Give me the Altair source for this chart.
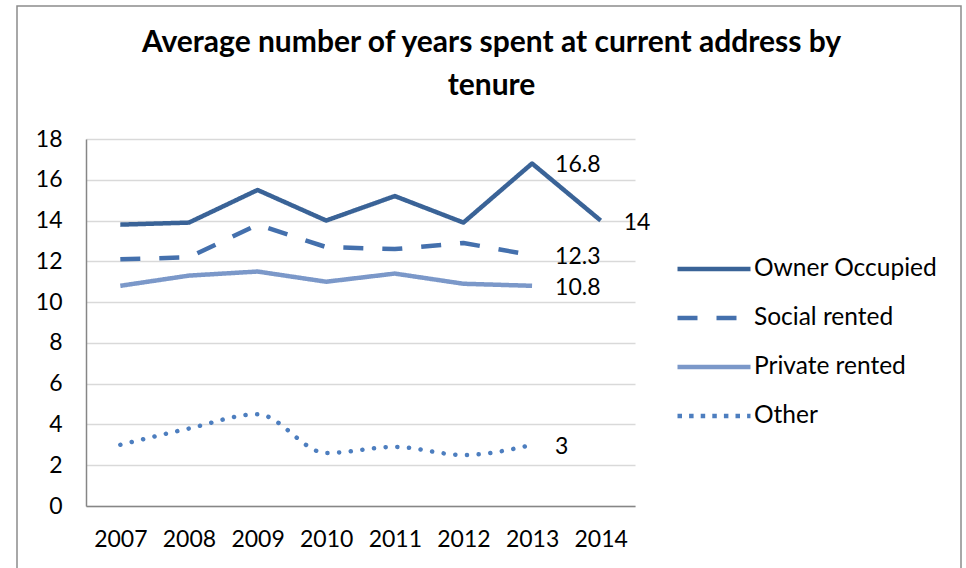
import altair as alt
import pandas as pd

years = ["2007", "2008", "2009", "2010", "2011", "2012", "2013", "2014"]
series_names = ["Owner Occupied", "Social rented", "Private rented", "Other"]
owner = [13.8, 13.9, 15.5, 14.0, 15.2, 13.9, 16.8, 14.0]
social = [12.1, 12.2, 13.8, 12.7, 12.6, 12.9, 12.3]
private = [10.8, 11.3, 11.5, 11.0, 11.4, 10.9, 10.8]
other = [3.0, 3.8, 4.5, 2.6, 2.9, 2.5, 3.0]
colors = ["#3A6397", "#4470AD", "#7B98C9", "#4D7EBF"]
dashes = [[1, 0], [20, 19], [1, 0], [4.5, 7.1]]

rows = []
for name, vals in zip(series_names, [owner, social, private, other]):
    for yr, v in zip(years, vals):
        rows.append({"year": yr, "series": name, "value": v})
df = pd.DataFrame(rows)

lab_rows = [
    {"year": years[6], "series": "Owner Occupied", "value": owner[6]},
    {"year": years[7], "series": "Owner Occupied", "value": owner[7]},
    {"year": years[len(social) - 1], "series": "Social rented", "value": social[-1]},
    {"year": years[len(private) - 1], "series": "Private rented", "value": private[-1]},
    {"year": years[len(other) - 1], "series": "Other", "value": other[-1]},
]
labels = pd.DataFrame(lab_rows)
labels["text"] = [f"{v:g}" for v in labels["value"]]

FONT = "Lato"

x_enc = alt.X(
    "year:N",
    scale=alt.Scale(domain=years),
    axis=alt.Axis(title=None, labelAngle=0, ticks=False, labelPadding=22, grid=False),
)
y_enc = alt.Y(
    "value:Q",
    scale=alt.Scale(domain=[0, 18]),
    axis=alt.Axis(title=None, values=list(range(0, 19, 2)), ticks=False, labelPadding=24, grid=True),
)
color_enc = alt.Color("series:N", scale=alt.Scale(domain=series_names, range=colors), title=None)
dash_enc = alt.StrokeDash("series:N", scale=alt.Scale(domain=series_names, range=dashes), title=None)

base = alt.Chart(df)

main_lines = base.transform_filter(alt.datum.series != "Other").mark_line(
    strokeWidth=4.5, strokeJoin="round"
).encode(x=x_enc, y=y_enc, color=color_enc, strokeDash=dash_enc)

other_line = base.transform_filter(alt.datum.series == "Other").mark_line(
    strokeWidth=4.5, strokeCap="round", interpolate="monotone", strokeDash=[0.1, 11.6]
).encode(x=x_enc, y=y_enc, color=color_enc)

text = alt.Chart(labels).mark_text(
    align="left", baseline="middle", dx=23, dy=2, fontSize=23, font=FONT, color="black"
).encode(x=x_enc, y=y_enc, text="text:N")

frame = alt.Chart(pd.DataFrame({"a": [0]})).mark_rect(
    fillOpacity=0, stroke="#8C8C8C", strokeWidth=1.5
).encode(x=alt.value(-69), x2=alt.value(875), y=alt.value(-133), y2=alt.value(440))

chart = alt.layer(frame, main_lines, other_line, text).properties(
    width=549,
    height=367,
    autosize=alt.AutoSizeParams(type="none"),
    padding={"left": 86, "top": 139, "right": 331, "bottom": 62},
    background="white",
    title=alt.Title(
        ["Average number of years spent at current address by", "tenure"],
        fontSize=30, font=FONT, fontWeight="bold", color="black",
        anchor="middle", dx=131, lineHeight=43, baseline="bottom", offset=-126,
    ),
).configure_view(stroke=None).configure_axis(
    labelFont=FONT, labelFontSize=23, labelColor="black",
    gridColor="#D9D9D9", gridWidth=1.5, domainColor="#868686", domainWidth=1.5,
).configure_legend(
    orient="none", legendX=589, legendY=118, symbolType="stroke", symbolSize=5329,
    symbolStrokeWidth=4.5, labelFontSize=24.5, labelFont=FONT, labelColor="black",
    rowPadding=24, clipHeight=24, labelOffset=1, labelLimit=400,
)

chart.save("out.html", embed_options={"renderer": "svg", "actions": False})
